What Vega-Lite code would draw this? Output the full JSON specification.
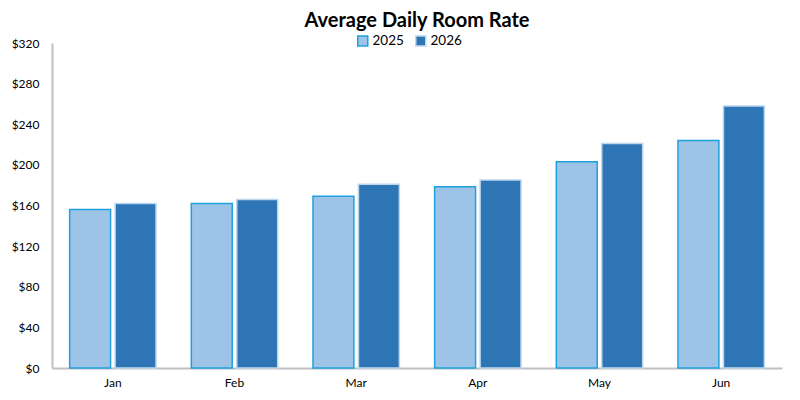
{
  "$schema": "https://vega.github.io/schema/vega-lite/v6.json",
  "width": 800,
  "height": 400,
  "autosize": {"type": "fit", "contains": "padding"},
  "padding": {"left": 11, "right": 18, "top": 11, "bottom": 12},
  "background": "white",
  "title": {
    "text": "Average Daily Room Rate",
    "font": "Lato",
    "fontSize": 20,
    "fontWeight": "bold",
    "color": "#000000",
    "anchor": "middle",
    "offset": 6
  },
  "data": {
    "values": [
      {"month": "Jan", "year": "2025", "rate": 156},
      {"month": "Jan", "year": "2026", "rate": 162},
      {"month": "Feb", "year": "2025", "rate": 162},
      {"month": "Feb", "year": "2026", "rate": 166},
      {"month": "Mar", "year": "2025", "rate": 169},
      {"month": "Mar", "year": "2026", "rate": 181},
      {"month": "Apr", "year": "2025", "rate": 178.5},
      {"month": "Apr", "year": "2026", "rate": 185},
      {"month": "May", "year": "2025", "rate": 203},
      {"month": "May", "year": "2026", "rate": 221},
      {"month": "Jun", "year": "2025", "rate": 224},
      {"month": "Jun", "year": "2026", "rate": 258}
    ]
  },
  "mark": {"type": "bar", "strokeWidth": 1.5},
  "encoding": {
    "x": {
      "field": "month",
      "type": "nominal",
      "sort": ["Jan", "Feb", "Mar", "Apr", "May", "Jun"],
      "scale": {"paddingInner": 0.29, "paddingOuter": 0.145},
      "axis": {
        "title": null,
        "labelAngle": 0,
        "ticks": false,
        "labelPadding": 9,
        "labelFontSize": 12,
        "labelFont": "Lato",
        "labelColor": "#000000",
        "domainColor": "#BFBFBF",
        "domainWidth": 2
      }
    },
    "xOffset": {
      "field": "year",
      "type": "nominal",
      "scale": {"paddingInner": 0.1}
    },
    "y": {
      "field": "rate",
      "type": "quantitative",
      "scale": {"domain": [0, 320], "nice": false},
      "axis": {
        "title": null,
        "values": [0, 40, 80, 120, 160, 200, 240, 280, 320],
        "format": "$,.0f",
        "grid": false,
        "ticks": false,
        "labelPadding": 13,
        "labelFontSize": 12,
        "labelFont": "Lato",
        "labelColor": "#000000",
        "domainColor": "#BFBFBF",
        "domainWidth": 2
      }
    },
    "color": {
      "field": "year",
      "type": "nominal",
      "scale": {"domain": ["2025", "2026"], "range": ["#9DC3E6", "#2E75B6"]},
      "legend": {
        "title": null,
        "orient": "none",
        "direction": "horizontal",
        "legendX": 304,
        "legendY": -9,
        "symbolType": "square",
        "symbolSize": 100,
        "symbolStrokeWidth": 1.5,
        "labelFontSize": 13.5,
        "labelFont": "Lato",
        "labelColor": "#000000",
        "labelOffset": 3,
        "columnPadding": 8
      }
    },
    "stroke": {
      "field": "year",
      "type": "nominal",
      "scale": {"domain": ["2025", "2026"], "range": ["#1FA2DC", "#BDD7EE"]},
      "legend": null
    }
  },
  "config": {
    "view": {"stroke": null}
  }
}
